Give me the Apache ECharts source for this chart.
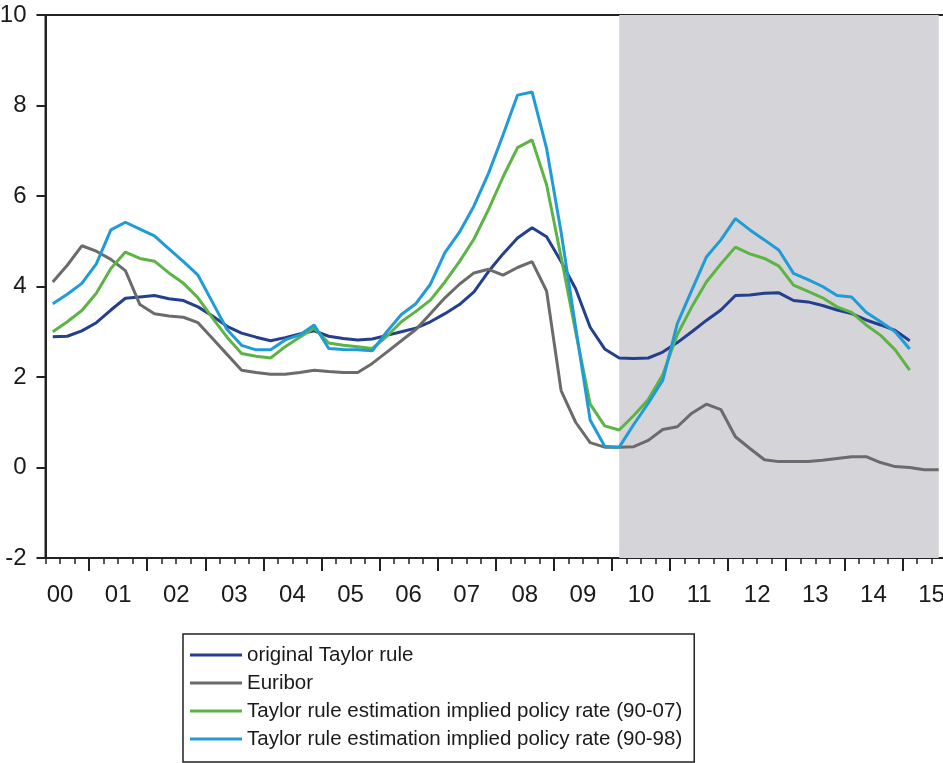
<!DOCTYPE html>
<html>
<head>
<meta charset="utf-8">
<script src="https://cdn.jsdelivr.net/npm/echarts@6/dist/echarts.min.js"></script>
<style>
  html, body { margin: 0; padding: 0; background: #fff; }
  #chart { width: 943px; height: 763px; }
</style>
</head>
<body>
<div id="chart"></div>
<script>
// quarterly sample 2000Q2 .. 2015Q3
const quarters = []
for (let y = 2000; y <= 2015; y++) {
  for (let q = 1; q <= 4; q++) {
    if ((y === 2000 && q === 1) || (y === 2015 && q === 4)) continue
    quarters.push(y + 'Q' + q)
  }
}

const seriesNames = [
  'original Taylor rule',
  'Euribor',
  'Taylor rule estimation implied policy rate (90-07)',
  'Taylor rule estimation implied policy rate (90-98)',
]

const taylorOriginal = [
  2.89, 2.9, 3.02, 3.2, 3.48, 3.74, 3.77, 3.8, 3.73, 3.69,
  3.55, 3.35, 3.12, 2.97, 2.88, 2.8, 2.87, 2.95, 3.02, 2.9,
  2.85, 2.82, 2.84, 2.92, 3.0, 3.08, 3.22, 3.4, 3.6, 3.88,
  4.33, 4.72, 5.07, 5.3, 5.1, 4.55, 3.95, 3.1, 2.62, 2.42,
  2.41, 2.42, 2.55, 2.76, 3.0, 3.25, 3.48, 3.8, 3.81, 3.85,
  3.86, 3.69, 3.66, 3.58, 3.48, 3.4, 3.26, 3.15, 3.03, 2.8, null, null,
]

const euribor = [
  4.1, 4.47, 4.9, 4.78, 4.6, 4.35, 3.6, 3.4, 3.35, 3.32,
  3.2, 2.85, 2.5, 2.15, 2.1, 2.06, 2.06, 2.1, 2.15, 2.12,
  2.1, 2.1, 2.3, 2.55, 2.8, 3.05, 3.4, 3.75, 4.05, 4.3,
  4.38, 4.25, 4.42, 4.55, 3.9, 1.7, 1.0, 0.55, 0.45, 0.45,
  0.46, 0.6, 0.84, 0.9, 1.2, 1.4, 1.28, 0.68, 0.42, 0.17,
  0.13, 0.13, 0.13, 0.16, 0.2, 0.24, 0.24, 0.11, 0.02, 0.0, -0.05, -0.05,
]

const estimate9007 = [
  3.0, 3.22, 3.47, 3.85, 4.4, 4.76, 4.62, 4.56, 4.3, 4.07,
  3.75, 3.3, 2.88, 2.52, 2.46, 2.42, 2.67, 2.88, 3.08, 2.75,
  2.7, 2.67, 2.63, 2.9, 3.22, 3.45, 3.7, 4.1, 4.55, 5.05,
  5.7, 6.42, 7.07, 7.24, 6.25, 4.65, 3.0, 1.4, 0.92, 0.83,
  1.15, 1.5, 2.05, 2.94, 3.55, 4.1, 4.5, 4.87, 4.72, 4.62,
  4.45, 4.03, 3.89, 3.75, 3.55, 3.43, 3.15, 2.92, 2.6, 2.15, null, null,
]

const estimate9098 = [
  3.62, 3.83, 4.07, 4.5, 5.25, 5.42, 5.27, 5.12, 4.83, 4.55,
  4.25, 3.65, 3.05, 2.7, 2.6, 2.6, 2.82, 2.93, 3.15, 2.63,
  2.61, 2.6, 2.58, 3.0, 3.38, 3.62, 4.05, 4.75, 5.2, 5.78,
  6.5, 7.35, 8.23, 8.3, 7.05, 5.2, 3.1, 1.05, 0.47, 0.45,
  0.95, 1.42, 1.93, 3.18, 3.92, 4.65, 5.03, 5.5, 5.25, 5.03,
  4.8, 4.29, 4.15, 4.0, 3.8, 3.77, 3.43, 3.22, 3.0, 2.62, null, null,
]

// shaded period
const shadeFrom = '2010Q1'
const shadeTo = '2015Q3'

const colors = ['#233f8e', '#6b6b6b', '#5bb443', '#1f9bd7']
const axisFont = "'Liberation Sans', Arial, sans-serif"

const lineSeries = (name, data, color) => ({
  type: 'line',
  name,
  data,
  showSymbol: false,
  connectNulls: false,
  lineStyle: { color, width: 3 },
  itemStyle: { color },
  z: 3,
})

const chart = echarts.init(document.getElementById('chart'))

const series = [
  lineSeries(seriesNames[0], taylorOriginal, colors[0]),
  lineSeries(seriesNames[1], euribor, colors[1]),
  lineSeries(seriesNames[2], estimate9007, colors[2]),
  lineSeries(seriesNames[3], estimate9098, colors[3]),
]
series[1].markArea = {
  silent: true,
  z: 1,
  itemStyle: { color: '#d5d4d8', opacity: 1 },
  data: [[{ xAxis: shadeFrom }, { xAxis: shadeTo }]],
}

chart.setOption({
  animation: false,
  backgroundColor: '#fff',
  grid: {
    left: 45.5,
    right: -3,
    top: 15,
    bottom: 205,
    containLabel: false,
    outerBoundsMode: 'none',
    show: true,
    borderColor: '#222',
    borderWidth: 2,
    backgroundColor: 'transparent',
  },
  legend: {
    data: seriesNames,
    orient: 'vertical',
    left: 183,
    top: 634,
    icon: 'rect',
    itemWidth: 52,
    itemHeight: 3,
    itemGap: 2,
    padding: [8, 12, 10, 7],
    borderColor: '#222',
    borderWidth: 1.5,
    backgroundColor: '#fff',
    textStyle: {
      fontFamily: axisFont,
      fontSize: 20.5,
      lineHeight: 26,
      color: '#1a1a1a',
    },
  },
  xAxis: [
    {
      type: 'category',
      data: quarters,
      boundaryGap: true,
      axisLine: { show: true, onZero: false, lineStyle: { color: '#222', width: 2 } },
      axisTick: { show: true, interval: 0, length: 6, lineStyle: { color: '#222', width: 1.5 } },
      axisLabel: { show: false },
      splitLine: { show: false },
    },
    {
      type: 'category',
      data: quarters,
      boundaryGap: true,
      position: 'bottom',
      axisLine: { show: false, onZero: false },
      axisTick: {
        show: true,
        interval: (idx, val) => val.slice(4) === 'Q1',
        length: 13,
        lineStyle: { color: '#222', width: 2 },
      },
      axisLabel: {
        interval: (idx, val) => val.slice(4) === 'Q3',
        formatter: (val) => val.slice(2, 4),
        fontFamily: axisFont,
        fontSize: 24,
        color: '#1a1a1a',
        margin: 25,
        padding: [0, 14.5, 0, 0],
      },
      splitLine: { show: false },
    },
  ],
  yAxis: {
    type: 'value',
    min: -2,
    max: 10,
    interval: 2,
    axisLine: { show: true, lineStyle: { color: '#222', width: 2 } },
    axisTick: { show: true, length: 9, lineStyle: { color: '#222', width: 2 } },
    axisLabel: {
      fontFamily: axisFont,
      fontSize: 24,
      color: '#1a1a1a',
      margin: 19,
    },
    splitLine: { show: false },
  },
  series,
})
</script>
</body>
</html>
